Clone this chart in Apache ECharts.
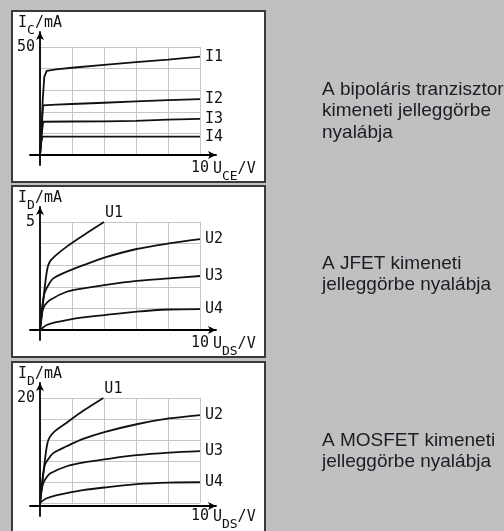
<!DOCTYPE html>
<html>
<head>
<meta charset="utf-8">
<script src="https://cdn.jsdelivr.net/npm/echarts@6/dist/echarts.min.js"></script>
<style>
  html, body { margin: 0; padding: 0; background: #c0c0c0; }
  #chart { width: 504px; height: 531px; }
</style>
</head>
<body>
<div id="chart"></div>
<script>
// ---- Data ----
const bjtNames = ['I1', 'I2', 'I3', 'I4'];
const fetNames = ['U1', 'U2', 'U3', 'U4'];
const xMaxValue = 10;
const xInterval = 2;
const yMaxValues = [50, 5, 20];
const yIntervals = [10, 1, 4];
const yTitleParts = [['I', 'C', '/mA'], ['I', 'D', '/mA'], ['I', 'D', '/mA']];
const xTitleParts = [['U', 'CE', '/V'], ['U', 'DS', '/V'], ['U', 'DS', '/V']];
const captions = [
  'A bipoláris tranzisztor\nkimeneti jelleggörbe\nnyalábja',
  'A JFET kimeneti\njelleggörbe nyalábja',
  'A MOSFET kimeneti\njelleggörbe nyalábja'
];

// Bipolar transistor: I_C (mA) vs U_CE (V)
const bjtI1 = [[0,0],[0.08,8],[0.17,25.5],[0.27,36.3],[0.42,38.9],[1,39.6],[2,40.4],[4,41.7],[6,43.0],[8,44.2],[10,45.5]];
const bjtI2 = [[0,0],[0.08,10],[0.19,23.0],[1,23.3],[2,23.6],[4,24.2],[6,24.8],[8,25.4],[10,25.9]];
const bjtI3 = [[0,0],[0.08,8],[0.2,15.4],[2,15.5],[4,15.6],[6,15.8],[8,16.4],[10,16.7]];
const bjtI4 = [[0,0],[0.06,5],[0.15,8.5],[5,8.5],[10,8.5]];

// JFET: I_D (mA) vs U_DS (V)
const jfetU1 = [[0,0],[0.15,1.0],[0.3,2.0],[0.45,2.8],[0.6,3.15],[0.9,3.4],[1.67,3.86],[2.7,4.38],[4.0,5.0]];
const jfetU2 = [[0,0],[0.1,0.8],[0.2,1.4],[0.31,1.77],[0.5,2.05],[0.83,2.39],[1.67,2.70],[2.71,3.0],[4.02,3.35],[6.04,3.75],[8.06,4.01],[10,4.21]];
const jfetU3 = [[0,0],[0.1,0.6],[0.17,0.93],[0.3,1.15],[0.625,1.39],[1.67,1.77],[2.71,1.93],[4.02,2.08],[6.04,2.27],[8.06,2.39],[10,2.5]];
const jfetU4 = [[0,0],[0.2,0.12],[0.42,0.23],[1,0.36],[1.67,0.46],[2.7,0.58],[4.02,0.69],[6.04,0.85],[8.06,0.95],[10,0.97]];

// MOSFET: I_D (mA) vs U_DS (V)
const mosU1 = [[0,0],[0.15,4],[0.3,8],[0.45,11.2],[0.6,12.5],[0.9,13.6],[1.67,15.3],[2.7,17.55],[3.96,20]];
const mosU2 = [[0,0],[0.1,3],[0.2,5.6],[0.31,7.3],[0.5,8.3],[0.83,9.5],[1.67,10.8],[2.7,12.2],[4.02,13.5],[6.04,15.0],[8.06,16.1],[10,16.75]];
const mosU3 = [[0,0],[0.1,2.4],[0.2,3.7],[0.35,4.6],[0.625,5.6],[1.67,7.0],[2.7,7.7],[4.02,8.3],[6.04,9.1],[8.06,9.6],[10,9.9]];
const mosU4 = [[0,0],[0.2,0.5],[0.42,0.9],[1,1.45],[1.67,1.9],[2.7,2.45],[4.02,2.95],[6.04,3.6],[8.06,3.9],[10,3.95]];

const panelSeries = [
  { names: bjtNames, data: [bjtI1, bjtI2, bjtI3, bjtI4], smooth: false },
  { names: fetNames, data: [jfetU1, jfetU2, jfetU3, jfetU4], smooth: 0.3 },
  { names: fetNames, data: [mosU1, mosU2, mosU3, mosU4], smooth: 0.3 }
];

// ---- Layout / style ----
const MONO = '"DejaVu Sans Mono", monospace';
const INK = '#111';
const gridTops = [47, 222, 398];
const panelTops = [11, 186, 362];
const panelHeights = [171, 171, 180];
const captionTops = [79, 253, 430];
const GL = 40, GW = 160, GH = 108;
const extL = 10, extR = 16, extB = 10, extT = 15;

const richParts = {
  a: { fontFamily: MONO, fontSize: 15, color: INK, lineHeight: 15, padding: [0, 0, 6, 0] },
  s: { fontFamily: MONO, fontSize: 13, color: INK, lineHeight: 13, padding: [8, 0, 0, 0] }
};
function richTitle(p) { return '{a|' + p[0] + '}{s|' + p[1] + '}{a|' + p[2] + '}'; }

const grid = [], xAxis = [], yAxis = [], series = [], graphic = [];

for (let p = 0; p < 3; p++) {
  const T = gridTops[p];
  const ymax = yMaxValues[p];
  const k = GH / ymax;       // px per y unit
  const kx = GW / xMaxValue; // px per x unit

  grid.push({ left: GL, top: T, width: GW, height: GH });
  grid.push({ left: GL - extL, top: T - extT, width: GW + extL + extR, height: GH + extT + extB });

  xAxis.push({
    gridIndex: 2 * p, type: 'value', min: 0, max: xMaxValue, interval: xInterval,
    axisLine: { show: false }, axisTick: { show: false },
    splitLine: { show: true, lineStyle: { color: '#c6c6c6', width: 1 } },
    axisLabel: {
      formatter: v => (v === xMaxValue ? String(v) : ''),
      fontFamily: MONO, fontSize: 15, color: INK, margin: 6, showMaxLabel: true
    },
    name: richTitle(xTitleParts[p]), nameLocation: 'end', nameGap: 11,
    nameTextStyle: { align: 'left', verticalAlign: 'top', padding: [10, 0, 0, 0], rich: richParts }
  });
  yAxis.push({
    gridIndex: 2 * p, type: 'value', min: 0, max: ymax, interval: yIntervals[p],
    axisLine: { show: false }, axisTick: { show: false },
    splitLine: { show: true, lineStyle: { color: '#c6c6c6', width: 1 } },
    axisLabel: {
      formatter: v => (v === ymax ? String(v) : ''),
      fontFamily: MONO, fontSize: 15, color: INK, margin: 5, showMaxLabel: true
    },
    name: richTitle(yTitleParts[p]), nameLocation: 'end', nameGap: 13,
    nameTextStyle: { align: 'center', verticalAlign: 'bottom', rich: richParts }
  });

  xAxis.push({
    gridIndex: 2 * p + 1, type: 'value', min: -extL / kx, max: xMaxValue + extR / kx,
    axisLine: { show: true, onZero: true, symbol: ['none', 'arrow'], symbolSize: [6, 8], lineStyle: { color: '#000', width: 1.8 } },
    axisTick: { show: false }, axisLabel: { show: false }, splitLine: { show: false }
  });
  yAxis.push({
    gridIndex: 2 * p + 1, type: 'value', min: -extB / k, max: ymax + extT / k,
    axisLine: { show: true, onZero: true, symbol: ['none', 'arrow'], symbolSize: [6, 8], lineStyle: { color: '#000', width: 1.8 } },
    axisTick: { show: false }, axisLabel: { show: false }, splitLine: { show: false }
  });

  const ps = panelSeries[p];
  ps.data.forEach((d, i) => {
    const isTop = (p > 0 && i === 0);
    series.push({
      type: 'line', name: ps.names[i], xAxisIndex: 2 * p, yAxisIndex: 2 * p,
      data: d, showSymbol: false, symbol: 'none',
      smooth: ps.smooth,
      lineStyle: { color: INK, width: 1.8 }, z: 3,
      endLabel: {
        show: true, formatter: '{a}', fontFamily: MONO, fontSize: 15, color: INK,
        distance: 5, offset: isTop ? [-4, -9] : [0, 0]
      },
      animation: false
    });
  });

  graphic.push({
    type: 'rect', z: -10, silent: true,
    shape: { x: 12, y: panelTops[p], width: 253, height: panelHeights[p] },
    style: { fill: '#ffffff', stroke: '#3a3a3a', lineWidth: 2 }
  });
  graphic.push({
    type: 'text', z: -5, silent: true, x: 322, y: captionTops[p],
    style: {
      text: captions[p], font: '19px "Liberation Sans", Arial, sans-serif',
      lineHeight: 21.5, fill: '#1c1c24', verticalAlign: 'top', align: 'left'
    }
  });
}

const chart = echarts.init(document.getElementById('chart'), null, { renderer: 'canvas' });
chart.setOption({
  backgroundColor: '#c0c0c0',
  animation: false,
  grid, xAxis, yAxis, series, graphic
});
</script>
</body>
</html>
